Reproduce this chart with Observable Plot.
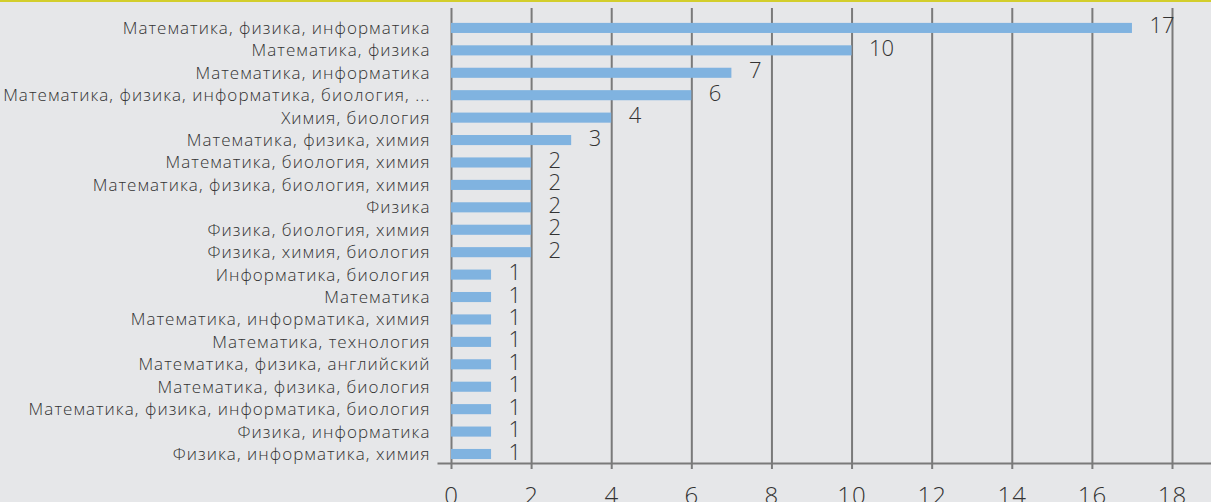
<!DOCTYPE html>
<html>
<head>
<meta charset="utf-8">
<script src="https://cdn.jsdelivr.net/npm/d3@7"></script>
<script src="https://cdn.jsdelivr.net/npm/@observablehq/plot@0.6"></script>
<style>
  html, body { margin: 0; padding: 0; background: #e6e7e9; }
  #topline { height: 2px; background: #d3ce2c; }
  #chart svg { display: block; }
  #chart g[aria-label="y-axis tick label"] { letter-spacing: 1.05px; }
  #chart g[aria-label="x-axis tick label"] { letter-spacing: 1px; }
</style>
</head>
<body>
<div id="topline"></div>
<div id="chart"></div>
<script>
const categories = [
  "Математика, физика, информатика",
  "Математика, физика",
  "Математика, информатика",
  "Математика, физика, информатика, биология, ...",
  "Химия, биология",
  "Математика, физика, химия",
  "Математика, биология, химия",
  "Математика, физика, биология, химия",
  "Физика",
  "Физика, биология, химия",
  "Физика, химия, биология",
  "Информатика, биология",
  "Математика",
  "Математика, информатика, химия",
  "Математика, технология",
  "Математика, физика, английский",
  "Математика, физика, биология",
  "Математика, физика, информатика, биология",
  "Физика, информатика",
  "Физика, информатика, химия"
];
const values = [17, 10, 7, 6, 4, 3, 2, 2, 2, 2, 2, 1, 1, 1, 1, 1, 1, 1, 1, 1];
const xTicks = [0, 2, 4, 6, 8, 10, 12, 14, 16, 18];

const data = categories.map((c, i) => ({category: c, value: values[i]}));
const FONT = "'Open Sans', sans-serif";

const chart = Plot.plot({
  width: 1211,
  height: 500,
  marginTop: 6,
  marginBottom: 39,
  marginLeft: 451,
  marginRight: 39,
  style: {background: "transparent", fontFamily: FONT, color: "#333"},
  x: {domain: [0, 18], ticks: xTicks},
  y: {domain: categories, paddingInner: 0.55, paddingOuter: 0.42, align: 0.79, round: false, label: null},
  marks: [
    Plot.gridX(xTicks, {stroke: "#7a7a7a", strokeWidth: 2, strokeOpacity: 1}),
    Plot.barX(data, {x: "value", y: "category", fill: "#80b3e0"}),
    Plot.frame({anchor: "bottom", stroke: "#7a7a7a", strokeWidth: 2, insetLeft: -13, insetRight: -39}),
    Plot.axisX(xTicks, {tickSize: 6, tickPadding: 17, stroke: "#7a7a7a", strokeWidth: 2,
      fontSize: 24, fontWeight: 300, fill: "#333", label: null}),
    Plot.axisY({tickSize: 0, tickPadding: 21, fontSize: 17, fontWeight: 300, fill: "#333", label: null}),
    Plot.text(data, {x: "value", y: "category", text: d => String(d.value), textAnchor: "start",
      dx: 17, dy: -2, fontSize: 22, fontWeight: 300, fill: "#333"})
  ]
});
document.getElementById("chart").appendChild(chart);
</script>
</body>
</html>
